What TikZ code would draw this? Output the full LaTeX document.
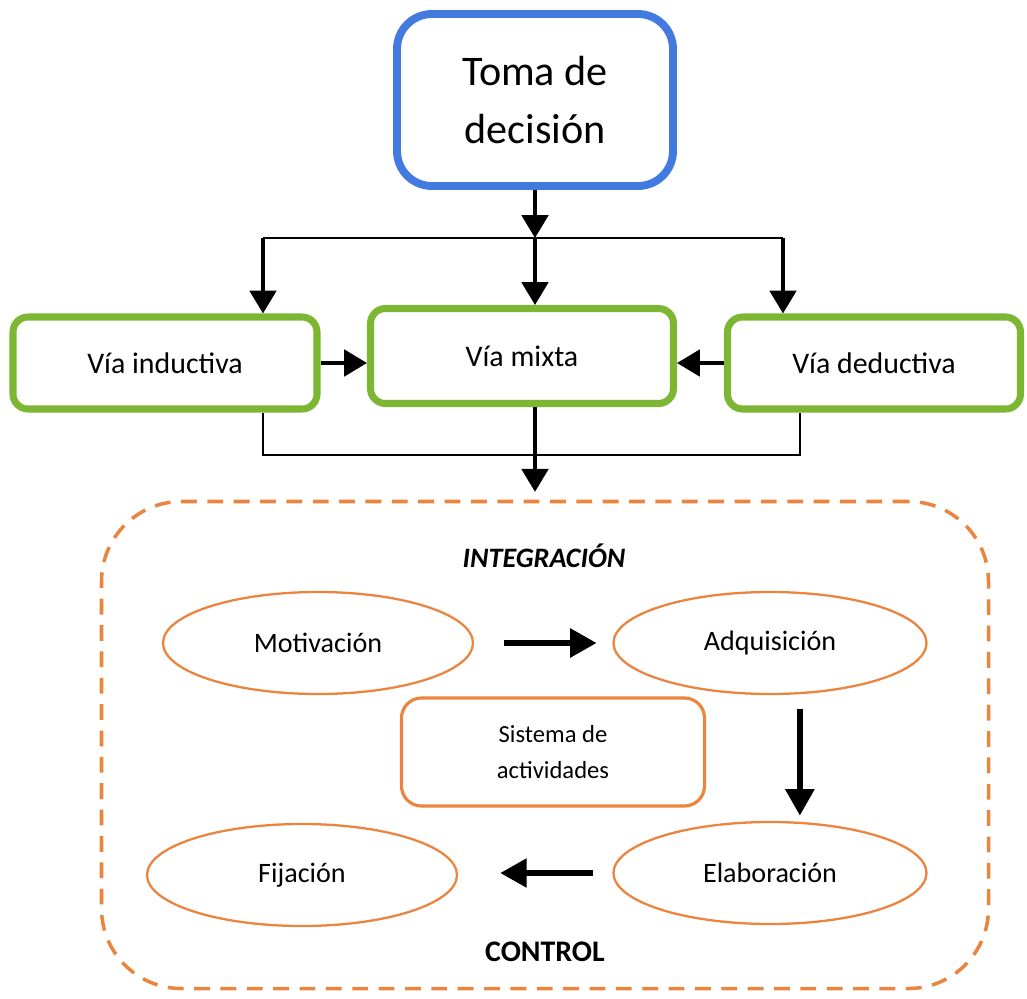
\documentclass[tikz,border=0pt]{standalone}
\usepackage{fontspec}
\setmainfont{Carlito}
\usetikzlibrary{shapes.geometric,arrows.meta}
\definecolor{myblue}{RGB}{66,122,224}
\definecolor{mygreen}{RGB}{125,182,50}
\definecolor{myorange}{RGB}{234,132,62}

\begin{document}
\begin{tikzpicture}[x=0.2mm,y=-0.2mm,
  toma/.style={draw=myblue, line width=4.5pt, rounded corners=7mm, align=center,
    minimum width=55.2mm, minimum height=34.4mm, font=\fontsize{24}{33}\selectfont},
  via/.style={draw=mygreen, line width=4pt, rounded corners=3mm,
    minimum height=18.4mm, font=\fontsize{17}{20}\selectfont},
  fase/.style={ellipse, draw=myorange, line width=1.3pt, minimum width=62mm,
    minimum height=20.4mm, font=\fontsize{16}{19}\selectfont},
  line/.style={line width=1.6pt},
  flow/.style={line width=2.2pt, -{Triangle[width=15pt,length=13pt]}},
  bigflow/.style={line width=3pt, -{Triangle[width=16pt,length=15pt]}}]

% Frame
\useasboundingbox (0,0) rectangle (1027,998);

% Top box
\node[toma] (toma) at (535,100) {Toma de\\decisión};

% Three ways
\node[via, minimum width=60.8mm] (ind) at (165,363) {Vía inductiva};
\node[via, minimum width=60.6mm, minimum height=19mm] (mix) at (522,356) {Vía mixta};
\node[via, minimum width=58.6mm] (ded) at (874,363) {Vía deductiva};

% Upper branching
\coordinate (barL) at (263,238);
\coordinate (barC) at (535,238);
\coordinate (barR) at (783,238);
\draw[flow] (toma.south -| barC) -- (barC);
\draw[line] (barL) -- (barR);
\draw[flow] (barL) -- (barL |- ind.north);
\draw[flow] (barC) -- (barC |- mix.north);
\draw[flow] (barR) -- (barR |- ded.north);

% Side arrows
\draw[flow] (ind.east) -- (ind.east -| mix.west);
\draw[flow] (ded.west) -- (ded.west -| mix.east);

% Integration frame
\node[draw=myorange, line width=2pt, dash pattern=on 9pt off 6pt, rounded corners=16mm,
  minimum width=177.4mm, minimum height=97.4mm] (integ) at (545,745) {};

% Lower joining
\coordinate (lowL) at (263,455);
\coordinate (lowR) at (800,455);
\draw[line] (lowL |- ind.south) -- (lowL) -- (lowR) -- (lowR |- ded.south);
\draw[flow, shorten >=4.5pt] (mix.south -| barC) -- (integ.north -| barC);

% Titles
\node[font=\fontsize{16}{19}\selectfont\bfseries\itshape] (titI) at (544,556) {INTEGRACIÓN};
\node[font=\fontsize{17}{20}\selectfont\bfseries] (titC) at (545,952) {CONTROL};

% Phases
\node[fase] (mot) at (318,643) {Motivación};
\node[fase, minimum width=62.6mm] (adq) at (770,643) {Adquisición};
\node[fase, minimum width=62.6mm] (ela) at (770,873) {Elaboración};
\node[fase] (fij) at (302,875) {Fijación};

% Center box
\node[draw=myorange, line width=1.8pt, rounded corners=4mm, align=center,
  minimum width=60.6mm, minimum height=21.6mm, font=\fontsize{14}{20}\selectfont]
  (sis) at (553,752) {Sistema de\\actividades};

% Cycle arrows
\draw[bigflow, shorten <=17pt, shorten >=9pt] (mot.east) -- (mot.east -| adq.west);
\draw[bigflow, shorten <=8pt, shorten >=3pt]
  ([xshift=17pt]adq.south) -- ([xshift=17pt]adq.south |- ela.north);
\draw[bigflow, shorten <=11pt, shorten >=24pt] (ela.west) -- (ela.west -| fij.east);

\end{tikzpicture}
\end{document}
